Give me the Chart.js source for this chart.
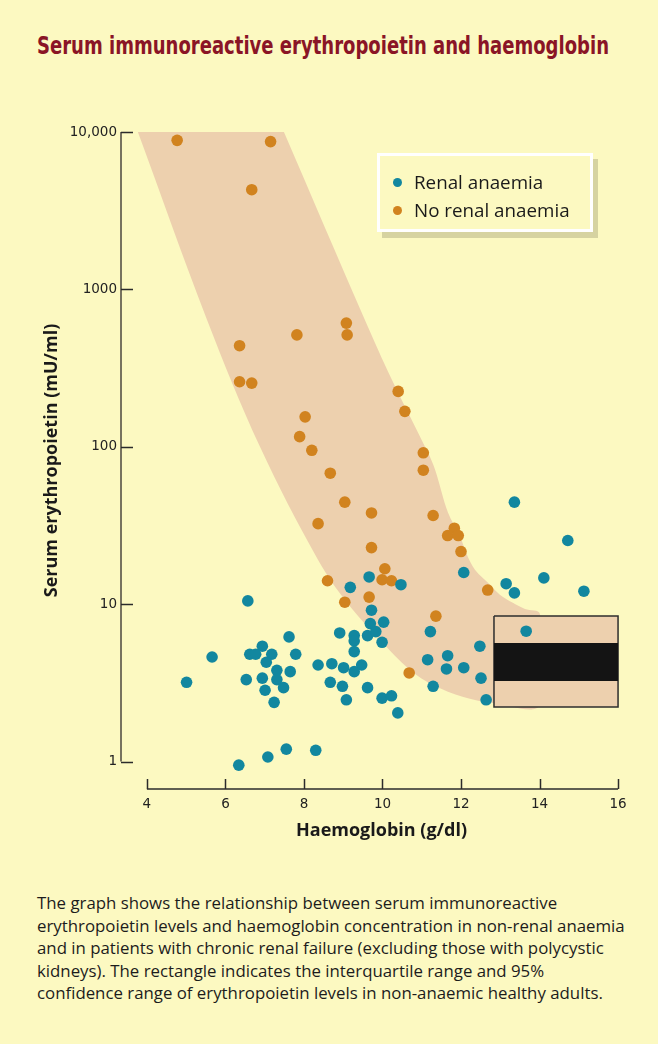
<!DOCTYPE html>
<html>
<head>
<meta charset="utf-8">
<script src="https://cdn.jsdelivr.net/npm/chart.js@4.4.1/dist/chart.umd.min.js"></script>
<style>
    html, body { margin: 0; padding: 0; }
    body {
        width: 658px; height: 1044px; position: relative; overflow: hidden;
        background: #fcf9c1; font-family: 'Open Sans', sans-serif; color: #1c1c1c;
    }
    #title {
        position: absolute; left: 37px; top: 31px; white-space: nowrap;
        font-family: 'Liberation Sans Narrow', 'DejaVu Sans Condensed', 'Roboto', sans-serif;
        font-weight: bold; font-size: 25px; color: #8a1526; transform-origin: 0 0;
    }
    #chartBox { position: absolute; left: 0; top: 0; width: 658px; height: 860px; }
    #legend {
        position: absolute; left: 377px; top: 153px; width: 216px; height: 79px;
        box-sizing: border-box; border: 3px solid #fff; background: #fcf9c1;
        box-shadow: 5px 6px 0 #d6d3a1;
    }
    .item { position: absolute; left: 0; height: 24px; line-height: 24px; white-space: nowrap; font-size: 18.8px; color: #1a1a1a; }
    .item i { position: absolute; left: 13px; top: 7.5px; width: 9px; height: 9px; border-radius: 50%; }
    .item span { position: absolute; left: 34px; top: 0; }
    #caption {
        position: absolute; left: 37px; top: 892px; font-size: 16px; line-height: 22.5px;
        white-space: nowrap; color: #1c1c1c;
    }
</style>
</head>
<body>
<div id="title"><span>Serum immunoreactive erythropoietin and haemoglobin</span></div>
<div id="chartBox"><canvas id="epoChart"></canvas></div>
<div id="legend"></div>
<div id="caption">
    <span>The graph shows the relationship between serum immunoreactive</span><br>
    <span id="capLine2">erythropoietin levels and haemoglobin concentration in non-renal anaemia</span><br>
    <span>and in patients with chronic renal failure (excluding those with polycystic</span><br>
    <span>kidneys). The rectangle indicates the interquartile range and 95%</span><br>
    <span>confidence range of erythropoietin levels in non-anaemic healthy adults.</span>
</div>
<script>
// Haemoglobin (g/dl) and serum erythropoietin (mU/ml)
const renalHb = [13.36, 14.72, 12.07, 13.15, 13.36, 14.11, 15.13, 9.66, 9.18, 10.47,
    9.72, 9.69, 10.03, 6.57, 5.66, 5.01, 8.91, 9.28, 9.62, 9.83,
    9.28, 9.99, 7.62, 6.94, 6.62, 6.77, 7.18, 7.79, 7.04, 7.31,
    7.65, 6.53, 6.94, 7.31, 7.01, 7.48, 7.24, 8.36, 8.71, 9.01,
    9.28, 9.47, 9.28, 8.67, 8.98, 9.08, 9.62, 9.99, 10.23, 10.39,
    6.34, 7.08, 7.55, 8.30, 11.22, 13.66, 12.48, 11.15, 11.66, 11.63,
    12.07, 12.51, 11.29, 12.64];
const renalEpo = [44.5, 25.4, 15.9, 13.5, 11.8, 14.7, 12.1, 14.9, 12.8, 13.3,
    9.16, 7.53, 7.69, 10.5, 4.62, 3.19, 6.57, 6.32, 6.32, 6.70,
    5.84, 5.73, 6.20, 5.41, 4.81, 4.81, 4.81, 4.81, 4.28, 3.80,
    3.73, 3.32, 3.39, 3.32, 2.84, 2.95, 2.38, 4.11, 4.19, 3.95,
    5.00, 4.11, 3.73, 3.19, 3.01, 2.47, 2.95, 2.53, 2.62, 2.04,
    0.95, 1.07, 1.20, 1.18, 6.70, 6.74, 5.41, 4.44, 4.71, 3.88,
    3.95, 3.39, 3.01, 2.47];

const nonRenalHb = [4.77, 7.15, 6.67, 9.08, 7.82, 9.10, 6.36, 6.36, 6.67, 8.03,
    7.89, 8.20, 8.67, 9.04, 9.72, 8.36, 9.72, 10.40, 10.57, 11.04,
    11.04, 11.29, 11.83, 11.66, 11.93, 12.00, 10.06, 9.99, 10.23, 9.04,
    9.66, 12.68, 11.36, 8.60, 10.68];
const nonRenalEpo = [8850, 8690, 4300, 611, 514, 514, 439, 259, 254, 155,
    116, 95, 68, 44.5, 38, 32.5, 22.9, 225, 168, 91.6,
    71, 36.6, 30.4, 27.3, 27.3, 21.6, 16.8, 14.3, 14.1, 10.3,
    11.1, 12.3, 8.4, 14.1, 3.66];

// Edges of the shaded band (lower-left edge and upper-right edge, top to bottom)
const bandLowerHb = [3.77, 5.53, 6.88, 8.36, 9.10, 9.94, 10.70, 11.29, 12.06, 12.82, 14.01];
const bandLowerEpo = [10000, 642, 100, 19.1, 10.2, 5.93, 3.82, 3.07, 2.57, 2.36, 2.29];
const bandUpperHb = [7.49, 9.55, 10.24, 11.16, 11.34, 11.67, 11.97, 12.15, 12.36, 12.74, 12.99, 13.32, 13.63, 14.01];
const bandUpperEpo = [10000, 642, 267, 91.6, 71.4, 38.1, 27.2, 20.6, 16.5, 13.3, 11.5, 10.2, 9.34, 8.68];

// Non-anaemic healthy adults: haemoglobin span, 95% range and interquartile range
const healthyHb = [12.84, 16];
const healthy95 = [2.22, 8.43];
const healthyIqr = [3.25, 5.68];

const xTicks = [4, 6, 8, 10, 12, 14, 16];
const yTicks = [1, 10, 100, 1000, 10000];
const xRange = [3.34, 16.61];
const yRange = [0.67, 10000];

const teal = '#12879f';
const orange = '#d1831f';
const bandColor = '#edd0ae';

function zip(xs, ys) {
    return xs.map((x, i) => ({ x: x, y: ys[i] }));
}

function rectPoints(hb, range) {
    return zip([hb[0], hb[1], hb[1], hb[0], hb[0]], [range[1], range[1], range[0], range[0], range[1]]);
}

// closed outline of the band; corners repeated so the curve stays sharp there
function bandPoints() {
    const lower = zip(bandLowerHb, bandLowerEpo);
    const upper = zip(bandUpperHb, bandUpperEpo);
    return [lower[0]].concat(lower, upper.slice().reverse(), [upper[0], lower[0]]);
}

// Axis lines and inward tick marks, drawn from the scales
const axisLines = {
    id: 'axisLines',
    afterDraw(chart) {
        const { ctx, chartArea, scales: { x, y } } = chart;
        ctx.save();
        const left = chartArea.left;
        ctx.strokeStyle = '#77735f';
        ctx.lineWidth = 2;
        ctx.beginPath();
        ctx.moveTo(left, y.getPixelForValue(yTicks[yTicks.length - 1]));
        ctx.lineTo(left, y.getPixelForValue(yTicks[0]));
        ctx.stroke();
        ctx.strokeStyle = '#2b2b2b';
        ctx.lineWidth = 1.5;
        yTicks.forEach(v => {
            const py = Math.round(y.getPixelForValue(v)) + 0.5;
            ctx.beginPath();
            ctx.moveTo(left, py);
            ctx.lineTo(left + 12, py);
            ctx.stroke();
        });
        const bottom = chartArea.bottom;
        ctx.beginPath();
        ctx.moveTo(x.getPixelForValue(xTicks[0]), bottom);
        ctx.lineTo(x.getPixelForValue(xTicks[xTicks.length - 1]), bottom);
        ctx.stroke();
        xTicks.forEach(v => {
            const px = Math.round(x.getPixelForValue(v)) + 0.5;
            ctx.beginPath();
            ctx.moveTo(px, bottom);
            ctx.lineTo(px, bottom - 10);
            ctx.stroke();
        });
        ctx.restore();
    }
};

const tickFont = { family: 'DejaVu Sans', size: 13.5 };
const axisTitleFont = { family: 'Open Sans', size: 18, weight: 'bold' };

const chart = new Chart(document.getElementById('epoChart'), {
    type: 'scatter',
    data: {
        datasets: [
            { label: 'Renal anaemia', data: zip(renalHb, renalEpo), backgroundColor: teal, borderWidth: 0, pointRadius: 5.8, order: 0 },
            { label: 'No renal anaemia', data: zip(nonRenalHb, nonRenalEpo), backgroundColor: orange, borderWidth: 0, pointRadius: 5.8, order: 1 },
            { label: 'Interquartile range', type: 'line', showLine: true, data: rectPoints(healthyHb, healthyIqr),
              fill: 'shape', backgroundColor: '#141414', borderWidth: 0, pointRadius: 0, order: 2 },
            { label: '95% range', type: 'line', showLine: true, data: rectPoints(healthyHb, healthy95),
              fill: 'shape', backgroundColor: bandColor, borderColor: '#2e2e2e', borderWidth: 1.5, pointRadius: 0, order: 3 },
            { label: 'band', type: 'line', showLine: true, data: bandPoints(), fill: 'shape', tension: 0.35,
              backgroundColor: bandColor, borderWidth: 0, pointRadius: 0, order: 4 }
        ]
    },
    options: {
        responsive: true,
        maintainAspectRatio: false,
        animation: false,
        layout: { padding: { top: 132, right: 16, bottom: 0, left: 0 } },
        plugins: { legend: { display: false }, tooltip: { enabled: false } },
        scales: {
            x: {
                type: 'linear', min: xRange[0], max: xRange[1],
                afterBuildTicks: s => { s.ticks = xTicks.map(v => ({ value: v })); },
                afterFit: s => { s.height = 71; },
                grid: { display: false, drawTicks: false },
                border: { display: false },
                ticks: { padding: 7, color: '#222', font: tickFont, maxRotation: 0, autoSkip: false },
                title: { display: true, text: 'Haemoglobin (g/dl)', color: '#1a1a1a', font: axisTitleFont, padding: { top: 0, bottom: 18 } }
            },
            y: {
                type: 'logarithmic', min: yRange[0], max: yRange[1],
                afterBuildTicks: s => { s.ticks = yTicks.map(v => ({ value: v })); },
                afterFit: s => { s.width = 121; },
                grid: { display: false, drawTicks: false },
                border: { display: false },
                ticks: { padding: 4, color: '#222', font: tickFont, autoSkip: false,
                         callback: v => v === 10000 ? '10,000' : String(v) },
                title: { display: true, text: 'Serum erythropoietin (mU/ml)', color: '#1a1a1a', font: axisTitleFont, padding: { top: 41, bottom: 0 } }
            }
        }
    },
    plugins: [axisLines]
});

// Legend built from the two point series
const legend = document.getElementById('legend');
chart.data.datasets.slice(0, 2).forEach((ds, i) => {
    const item = document.createElement('div');
    item.className = 'item';
    item.style.top = (14 + i * 28) + 'px';
    item.innerHTML = '<i style="background:' + ds.backgroundColor + '"></i><span>' + ds.label + '</span>';
    legend.appendChild(item);
});

// Fit title and caption to the widths in the figure
const titleSpan = document.querySelector('#title span');
document.getElementById('title').style.transform = 'scaleX(' + (572 / titleSpan.getBoundingClientRect().width) + ')';
const cap = document.getElementById('caption');
const line2 = document.getElementById('capLine2');
cap.style.fontSize = (16 * 588 / line2.getBoundingClientRect().width) + 'px';
</script>
</body>
</html>
